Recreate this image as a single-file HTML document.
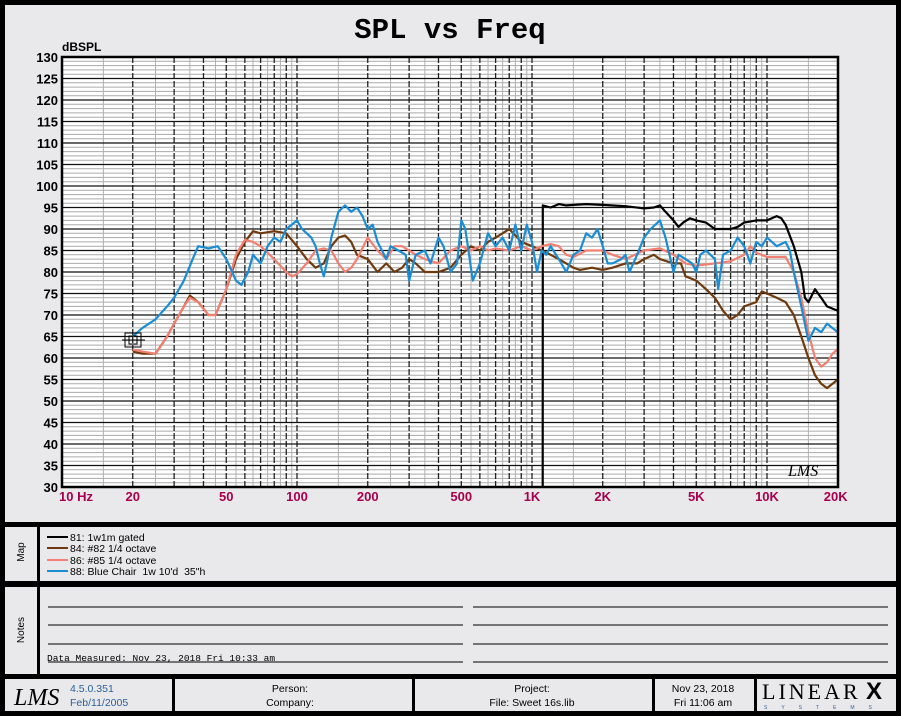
<!DOCTYPE html>
<html><head><meta charset="utf-8"><style>
html,body{margin:0;padding:0;background:#e9e9eb;}
body{width:901px;height:716px;overflow:hidden;position:relative;font-family:"Liberation Sans",sans-serif;}
</style></head><body>
<svg id="s" width="901" height="716" xmlns="http://www.w3.org/2000/svg" style="position:absolute;left:0;top:0">
<rect x="0" y="0" width="901" height="716" fill="#e9e9eb"/>
<g id="grid"></g>
<g id="curves" fill="none" stroke-width="2.2" stroke-linejoin="round"></g>
<rect x="62" y="57" width="776" height="430" fill="none" stroke="#000" stroke-width="2.5"/>
<text x="450" y="38" text-anchor="middle" font-family="Liberation Mono,monospace" font-weight="bold" font-size="29">SPL vs Freq</text>
<text x="62" y="51" font-weight="bold" font-size="12">dBSPL</text>
<g id="ylab" font-weight="bold" font-size="13" text-anchor="end"></g>
<g id="xlab" font-weight="bold" font-size="13" fill="#a8004c" text-anchor="middle"></g>
<!-- marker -->
<g stroke="#000" fill="none" stroke-width="1">
<rect x="125" y="333" width="16" height="14"/><rect x="129" y="336" width="8" height="8"/>
<line x1="122" y1="340" x2="145" y2="340"/>
</g>
<text x="788" y="476" font-family="Liberation Serif,serif" font-style="italic" font-size="16">LMS</text>
<!-- frame -->
<g fill="#000">
<rect x="0" y="0" width="901" height="5"/>
<rect x="0" y="0" width="5" height="716"/>
<rect x="896" y="0" width="5" height="716"/>
<rect x="0" y="711" width="901" height="5"/>
<rect x="0" y="522" width="901" height="5"/>
<rect x="0" y="581" width="901" height="6"/>
<rect x="0" y="674" width="901" height="5"/>
<rect x="37" y="522" width="3" height="156"/>
<rect x="172" y="674" width="3" height="40"/>
<rect x="412" y="674" width="3" height="40"/>
<rect x="652" y="674" width="3" height="40"/>
<rect x="754" y="674" width="3" height="40"/>
</g>
<text transform="translate(24,552) rotate(-90)" text-anchor="middle" font-size="10">Map</text>
<text transform="translate(24,630) rotate(-90)" text-anchor="middle" font-size="10">Notes</text>
<g font-size="10.5">
<line x1="47" y1="537" x2="68" y2="537" stroke="#000" stroke-width="2"/><text x="70" y="541">81: 1w1m gated</text>
<line x1="47" y1="548" x2="68" y2="548" stroke="#6e3a0e" stroke-width="2"/><text x="70" y="552">84: #82  1/4 octave</text>
<line x1="47" y1="560" x2="68" y2="560" stroke="#f27f70" stroke-width="2"/><text x="70" y="564">86: #85  1/4 octave</text>
<line x1="47" y1="571" x2="68" y2="571" stroke="#1b8dd2" stroke-width="2"/><text x="70" y="575" xml:space="preserve">88: Blue Chair  1w 10'd  35"h</text>
</g>
<g stroke="#000" stroke-width="1">
<line x1="48" y1="607" x2="463" y2="607"/><line x1="473" y1="607" x2="888" y2="607"/>
<line x1="48" y1="625" x2="463" y2="625"/><line x1="473" y1="625" x2="888" y2="625"/>
<line x1="48" y1="644" x2="463" y2="644"/><line x1="473" y1="644" x2="888" y2="644"/>
<line x1="48" y1="662" x2="463" y2="662"/><line x1="473" y1="662" x2="888" y2="662"/>
</g>
<text x="47" y="661" font-family="Liberation Mono,monospace" font-size="9.5">Data Measured: Nov 23, 2018  Fri 10:33 am</text>
<text x="14" y="705" font-family="Liberation Serif,serif" font-style="italic" font-size="24">LMS</text>
<g font-size="10.5">
<text x="70" y="692" fill="#2c5f9a">4.5.0.351</text>
<text x="70" y="706" fill="#2c5f9a">Feb/11/2005</text>
<text x="290" y="692" text-anchor="middle">Person:</text>
<text x="290" y="706" text-anchor="middle">Company:</text>
<text x="532" y="692" text-anchor="middle">Project:</text>
<text x="532" y="706" text-anchor="middle">File: Sweet 16s.lib</text>
<text x="703" y="692" text-anchor="middle">Nov 23, 2018</text>
<text x="703" y="706" text-anchor="middle">Fri 11:06 am</text>
</g>
<text x="762" y="699" font-family="Liberation Serif,serif" font-size="22" letter-spacing="3">LINEAR</text>
<text x="866" y="699" font-weight="bold" font-size="24">X</text>
<text x="764" y="709" font-size="5" fill="#2c5f9a" letter-spacing="14">SYSTEMS</text>
</svg>
<script>
var NS="http://www.w3.org/2000/svg";
function X(f){return 62+235*Math.log10(f/10);}
function Y(d){return 487-(d-30)*4.3;}
function el(p,t,a){var e=document.createElementNS(NS,t);for(var k in a)e.setAttribute(k,a[k]);p.appendChild(e);return e;}
var g=document.getElementById('grid');
el(g,'rect',{x:62,y:57,width:776,height:430,fill:'#fff'});
for(var d=30;d<=130;d++){if(d%5)el(g,'line',{x1:62,x2:838,y1:Y(d),y2:Y(d),stroke:'#aaa','stroke-width':1});}
var dec=[10,100,1000,10000];
dec.forEach(function(b){for(var m=1;m<10;m++){var f=b*m;if(f>20000)break;
 var fh=b*(m+0.5);if(fh<20000)el(g,'line',{x1:X(fh),x2:X(fh),y1:57,y2:487,stroke:'#b0b0b0','stroke-width':1});
 if(m>1||b>10)el(g,'line',{x1:X(f),x2:X(f),y1:57,y2:487,stroke:'#222','stroke-width':1.3,'stroke-dasharray':'6,2'});}});
for(var d=35;d<130;d+=5)el(g,'line',{x1:62,x2:838,y1:Y(d),y2:Y(d),stroke:'#111','stroke-width':1.3});
var yl=document.getElementById('ylab');
for(var d=30;d<=130;d+=5){var t=el(yl,'text',{x:58,y:Y(d)+5});t.textContent=d;}
var xl=document.getElementById('xlab');
[[10,'10 Hz'],[20,'20'],[50,'50'],[100,'100'],[200,'200'],[500,'500'],[1000,'1K'],[2000,'2K'],[5000,'5K'],[10000,'10K'],[20000,'20K']].forEach(function(a){var x=X(a[0]);if(a[0]==10)x+=14;if(a[0]==20000)x-=2;var t=el(xl,'text',{x:x,y:501});t.textContent=a[1];});
function P(arr){var s='';for(var i=0;i<arr.length;i+=2){s+=(i?'L':'M')+X(arr[i]).toFixed(1)+','+Y(arr[i+1]).toFixed(1);}return s;}
var blue=[20,65,22,67,25,69,28,72,30,74,33,78,36,83,38,86,42,85.5,46,86,50,83,55,78,58,77,62,80,65,84,70,82,75,86,80,88,85,87,90,90,95,91,100,92,105,90,110,89,115,88,120,86,125,82,130,79,135,83,140,88,150,94,160,95.5,170,94,180,95,190,93,200,90,210,91,220,87,230,85,240,83,250,86,270,85,290,84,300,78,320,84,350,85,370,82,400,88,420,86,450,80,480,82,500,92,520,90,540,84,560,78,600,82,650,89,700,86,750,88,800,85,850,91,900,85,950,91,1000,87,1050,80,1100,85,1150,84,1200,86,1300,83,1400,80,1500,84,1600,85,1700,89,1800,88,1900,90,2000,86,2100,82,2200,82,2400,83,2500,84,2600,80,2800,84,3000,88,3200,90,3500,92,3700,88,4000,80,4200,84,4500,83,4800,82,5000,80,5200,84,5500,85,6000,83,6200,76,6500,84,7000,85,7500,88,8000,86,8500,82,9000,87,9500,86,10000,88,11000,86,12000,87,12500,85,13000,80,14000,72,15000,64,16000,67,17000,66,18000,68,20000,66];
var black=[1110,30,1112,95.5,1200,95,1300,95.8,1400,95.5,1500,95.6,1700,95.8,2000,95.6,2500,95.3,3000,94.8,3300,95,3500,95.5,3700,94,4000,92,4200,90.5,4400,91.5,4700,92.5,5000,92,5500,91.5,6000,90,7000,90,7500,90.5,8000,91.5,9000,92,10000,92,11000,93,11500,92.5,12000,91,13000,86,14000,80,14500,74,15000,73,16000,76,17000,74,18000,72,19000,71.5,20000,71];
var brown=[20,61.5,22,61,25,61,28,65,30,68,33,72,35,74.5,38,73,42,70,45,70,50,76,55,83,60,87,65,89.5,70,89,80,89.5,90,89,100,86,110,83,120,81,130,82,140,86,150,88,160,88.5,170,87,180,84,200,83,220,80,240,82,260,80,280,81,300,83,320,82,350,80,400,80,450,81,500,84,550,86,600,85,650,87,700,88,750,89,800,90,850,88.5,900,87,1000,86,1100,85,1200,84,1300,83,1400,82,1500,81,1600,80.5,1800,81,2000,80.5,2200,81,2500,82,2800,82,3000,83,3300,84,3500,83,4000,82,4300,82,4500,79,5000,78,5500,76,6000,74,6500,71,7000,69,7500,70,8000,72,9000,73,9500,75.5,10000,75,11000,74,12000,73,13000,70,14000,65,15000,60,16000,56,17000,54,18000,53,19000,54,20000,55];
var pink=[20,62,22,61.5,25,61,28,65,30,68,33,72,35,74,38,73,42,70,45,70,50,76,55,84,60,87.5,65,87,70,86,80,83,90,80,95,79,100,79.5,110,82,120,85,130,85.5,140,85,150,82,160,80,170,81,180,83,200,88,220,85,240,83,260,86,280,86,300,85,320,84,350,83,400,82,450,85,500,86,550,85,600,86,650,85,700,85.5,800,85,900,86,1000,85,1100,86,1200,86.5,1300,86,1400,84,1500,83.5,1700,85,2000,85,2200,84,2500,83,3000,85,3500,85.5,4000,84,4500,82,5000,81.5,6000,82,7000,82.5,8000,84,8500,86,9000,84.5,10000,83.5,11000,83.5,12000,83.5,13000,80,14000,74,15000,66,16000,60,17000,58,18000,59,19000,61,20000,62];
var c=document.getElementById('curves');
el(c,'path',{d:P(black),stroke:'#000'});
el(c,'path',{d:P(brown),stroke:'#6e3a0e'});
el(c,'path',{d:P(pink),stroke:'#f27f70'});
el(c,'path',{d:P(blue),stroke:'#1b8dd2'});
</script>
</body></html>
